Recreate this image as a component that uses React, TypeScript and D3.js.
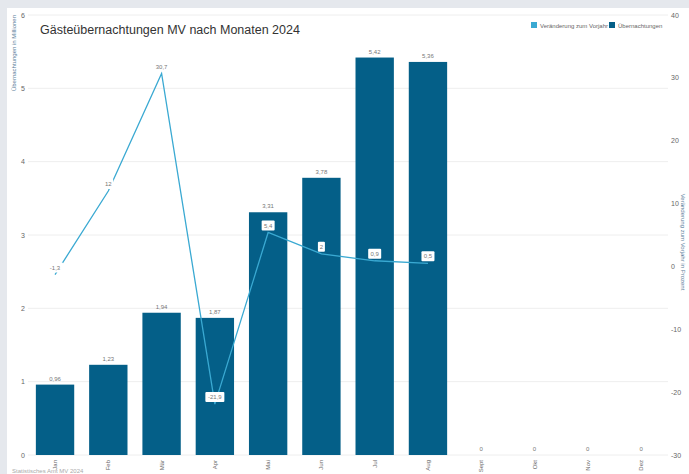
import React, { useEffect, useRef } from 'react';
import * as d3 from 'd3';

const months = ['Jan', 'Feb', 'Mär', 'Apr', 'Mai', 'Jun', 'Jul', 'Aug', 'Sept', 'Okt', 'Nov', 'Dez'];
const overnights = [0.96, 1.23, 1.94, 1.87, 3.31, 3.78, 5.42, 5.36, 0, 0, 0, 0];
const changeMonths = ['Jan', 'Feb', 'Mär', 'Apr', 'Mai', 'Jun', 'Jul', 'Aug'];
const changePct = [-1.3, 12, 30.7, -21.9, 5.4, 2, 0.9, 0.5];
const leftTicks = [0, 1, 2, 3, 4, 5, 6];
const rightTicks = [-30, -20, -10, 0, 10, 20, 30, 40];

const BAR = '#045f88';
const LINE = '#3aa9d2';
const FONT = '"Liberation Sans", Arial, sans-serif';

const fmt = (v: number) => String(v).replace('.', ',');

const App = () => {
  const ref = useRef<SVGSVGElement>(null);

  useEffect(() => {
    const svg = d3.select(ref.current);
    svg.selectAll('*').remove();
    const W = 689, H = 474;

    svg.append('rect').attr('width', W).attr('height', H).attr('fill', '#e5e8ed');
    svg.append('rect').attr('x', 7).attr('y', 8).attr('width', W - 7).attr('height', H - 8).attr('fill', '#fff');

    const x = d3.scaleBand<string>().domain(months).range([28.4, 667.7]).paddingInner(0.28).paddingOuter(0.14);
    const yL = d3.scaleLinear().domain([0, 6]).range([455, 15]);
    const yR = d3.scaleLinear().domain([-30, 40]).range([455, 15]);

    // grid
    svg.append('g').selectAll('line').data(leftTicks).join('line')
      .attr('x1', 28).attr('x2', 668)
      .attr('y1', d => yL(d)).attr('y2', d => yL(d))
      .attr('stroke', '#eeeeee').attr('stroke-width', 1);

    // left ticks
    svg.append('g').selectAll('text').data(leftTicks).join('text')
      .attr('x', 25).attr('y', d => yL(d) + 2.5)
      .attr('text-anchor', 'end').attr('font-size', 7).attr('fill', '#666').attr('font-family', FONT)
      .text(d => d);

    // right ticks
    svg.append('g').selectAll('text').data(rightTicks).join('text')
      .attr('x', 671).attr('y', d => yR(d) + 2.5)
      .attr('text-anchor', 'start').attr('font-size', 7).attr('fill', '#666').attr('font-family', FONT)
      .text(d => d);

    // axis titles
    svg.append('text')
      .attr('transform', 'translate(16,15) rotate(-90)')
      .attr('text-anchor', 'end').attr('font-size', 6).attr('fill', '#5a7d99').attr('font-family', FONT)
      .text('Übernachtungen in Millionen');
    svg.append('text')
      .attr('transform', 'translate(681,242) rotate(90)')
      .attr('text-anchor', 'middle').attr('font-size', 6).attr('fill', '#5a7d99').attr('font-family', FONT)
      .text('Veränderung zum Vorjahr in Prozent');

    // bars
    svg.append('g').selectAll('rect').data(months).join('rect')
      .attr('x', d => x(d)!).attr('width', x.bandwidth())
      .attr('y', (d, i) => yL(overnights[i])).attr('height', (d, i) => yL(0) - yL(overnights[i]))
      .attr('fill', BAR);

    svg.append('g').selectAll('text').data(months).join('text')
      .attr('x', d => x(d)! + x.bandwidth() / 2)
      .attr('y', (d, i) => yL(overnights[i]) - 4)
      .attr('text-anchor', 'middle').attr('font-size', 6).attr('fill', '#777').attr('font-family', FONT)
      .text((d, i) => fmt(overnights[i]));

    // x labels
    svg.append('g').selectAll('text').data(months).join('text')
      .attr('transform', d => `translate(${x(d)! + x.bandwidth() / 2 + 2},460) rotate(-90)`)
      .attr('text-anchor', 'end').attr('font-size', 6).attr('fill', '#666').attr('font-family', FONT)
      .text(d => d);

    // line
    const cx = (m: string) => x(m)! + x.bandwidth() / 2;
    const line = d3.line<number>().x((d, i) => cx(changeMonths[i])).y(d => yR(d));
    svg.append('path').datum(changePct).attr('d', line)
      .attr('fill', 'none').attr('stroke', LINE).attr('stroke-width', 1.3);

    const labels = svg.append('g').selectAll('g').data(changePct).join('g')
      .attr('transform', (d, i) => `translate(${cx(changeMonths[i])},${yR(d) - 7})`);
    labels.append('rect')
      .attr('x', d => -(fmt(d).length * 3 + 4) / 2).attr('y', -5)
      .attr('width', d => fmt(d).length * 3 + 4).attr('height', 10)
      .attr('fill', '#fff').attr('rx', 1);
    labels.append('text')
      .attr('y', 2.2).attr('text-anchor', 'middle').attr('font-size', 6).attr('fill', '#777').attr('font-family', FONT)
      .text(d => fmt(d));

    // title
    svg.append('text').attr('x', 40).attr('y', 34)
      .attr('font-size', 12.5).attr('fill', '#333').attr('font-family', FONT)
      .text('Gästeübernachtungen MV nach Monaten 2024');

    // legend
    const leg = svg.append('g').attr('font-family', FONT).attr('font-size', 6).attr('fill', '#666');
    leg.append('rect').attr('x', 531).attr('y', 22).attr('width', 6).attr('height', 6).attr('fill', LINE);
    leg.append('text').attr('x', 540).attr('y', 27.5).text('Veränderung zum Vorjahr');
    leg.append('rect').attr('x', 609).attr('y', 22).attr('width', 6).attr('height', 6).attr('fill', BAR);
    leg.append('text').attr('x', 618).attr('y', 27.5).text('Übernachtungen');

    // source
    svg.append('text').attr('x', 12).attr('y', 473)
      .attr('font-size', 6).attr('fill', '#aaa').attr('font-family', FONT)
      .text('Statistisches Amt MV 2024');
  }, []);

  return (
    <svg ref={ref} width={689} height={474}
      style={{ position: 'absolute', left: 0, top: 0, display: 'block' }} />
  );
};

export default App;
